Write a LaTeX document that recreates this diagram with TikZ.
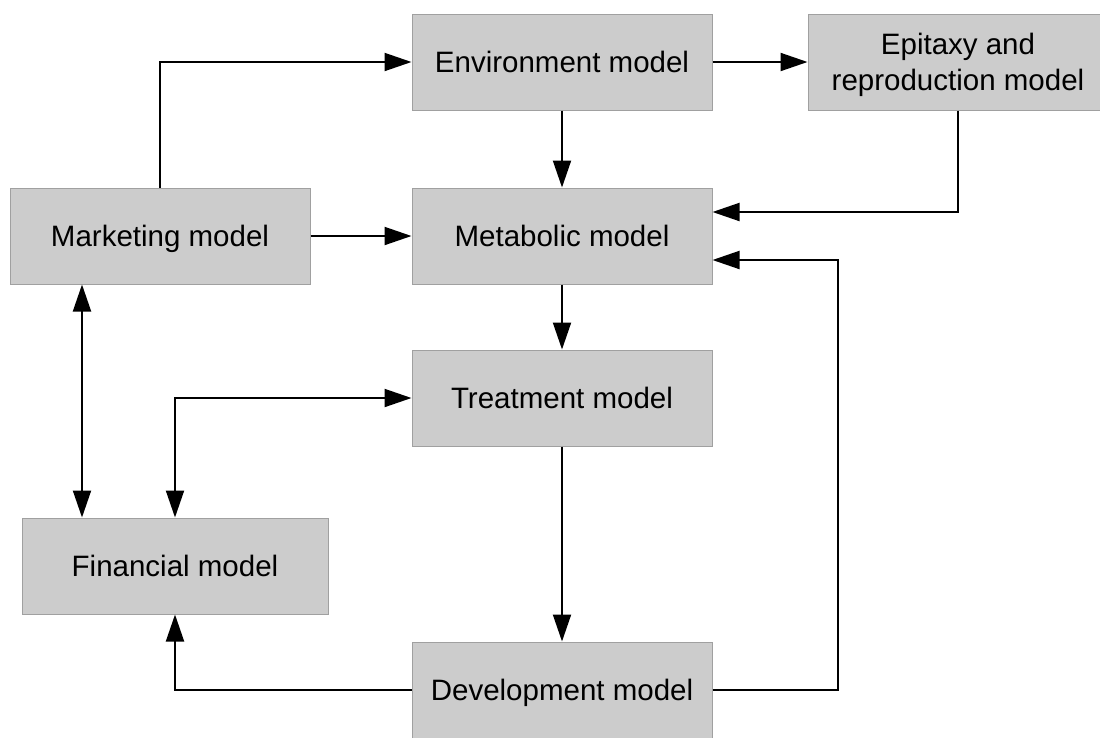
\documentclass[tikz,border=0pt]{standalone}
\usepackage{fontspec}
\setmainfont{Liberation Sans}
\usetikzlibrary{arrows.meta}
\definecolor{boxfill}{HTML}{CCCCCC}
\definecolor{boxline}{HTML}{A0A0A0}
\tikzset{
  model/.style={draw=boxline, line width=1pt, fill=boxfill, minimum width=300pt, minimum height=96pt,
    inner sep=0pt, align=center, text depth=0pt, font=\fontsize{29.5}{36}\selectfont},
  conn/.style={line width=2pt, -{Triangle[length=27pt,width=18pt]}},
  conn2/.style={line width=2pt, {Triangle[length=27pt,width=18pt]}-{Triangle[length=27pt,width=18pt]}}
}
\begin{document}
\begin{tikzpicture}[x=1pt,y=-1pt]
\useasboundingbox (0,0) rectangle (1100,737);
\clip (0,0) rectangle (1100,737);
\node[model] (env) at (562,62) {Environment model};
\node[model] (epi) at (958,62) {Epitaxy and\\reproduction model};
\node[model] (mkt) at (160,236) {Marketing model};
\node[model] (met) at (562,236) {Metabolic model};
\node[model] (trt) at (562,398) {Treatment model};
\node[model, minimum width=306pt] (fin) at (175,566) {Financial model};
\node[model] (dev) at (562,690) {Development model};

\draw[conn] (mkt.north) |- (env.west);
\draw[conn] (env.east) -- (epi.west);
\draw[conn] (env.south) -- (met.north);
\draw[conn] (epi.south) |- ([yshift=24pt]met.east);
\draw[conn] (dev.east) -- ++(125,0) |- ([yshift=-24pt]met.east);
\draw[conn] (mkt.east) -- (met.west);
\draw[conn] (met.south) -- (trt.north);
\draw[conn] (trt.south) -- (dev.north);
\coordinate (mf) at ([xshift=-78pt]mkt.south);
\draw[conn2] (mf) -- (mf |- fin.north);
\draw[conn2] (trt.west) -| (fin.north);
\draw[conn] (dev.west) -| (fin.south);
\end{tikzpicture}
\end{document}
